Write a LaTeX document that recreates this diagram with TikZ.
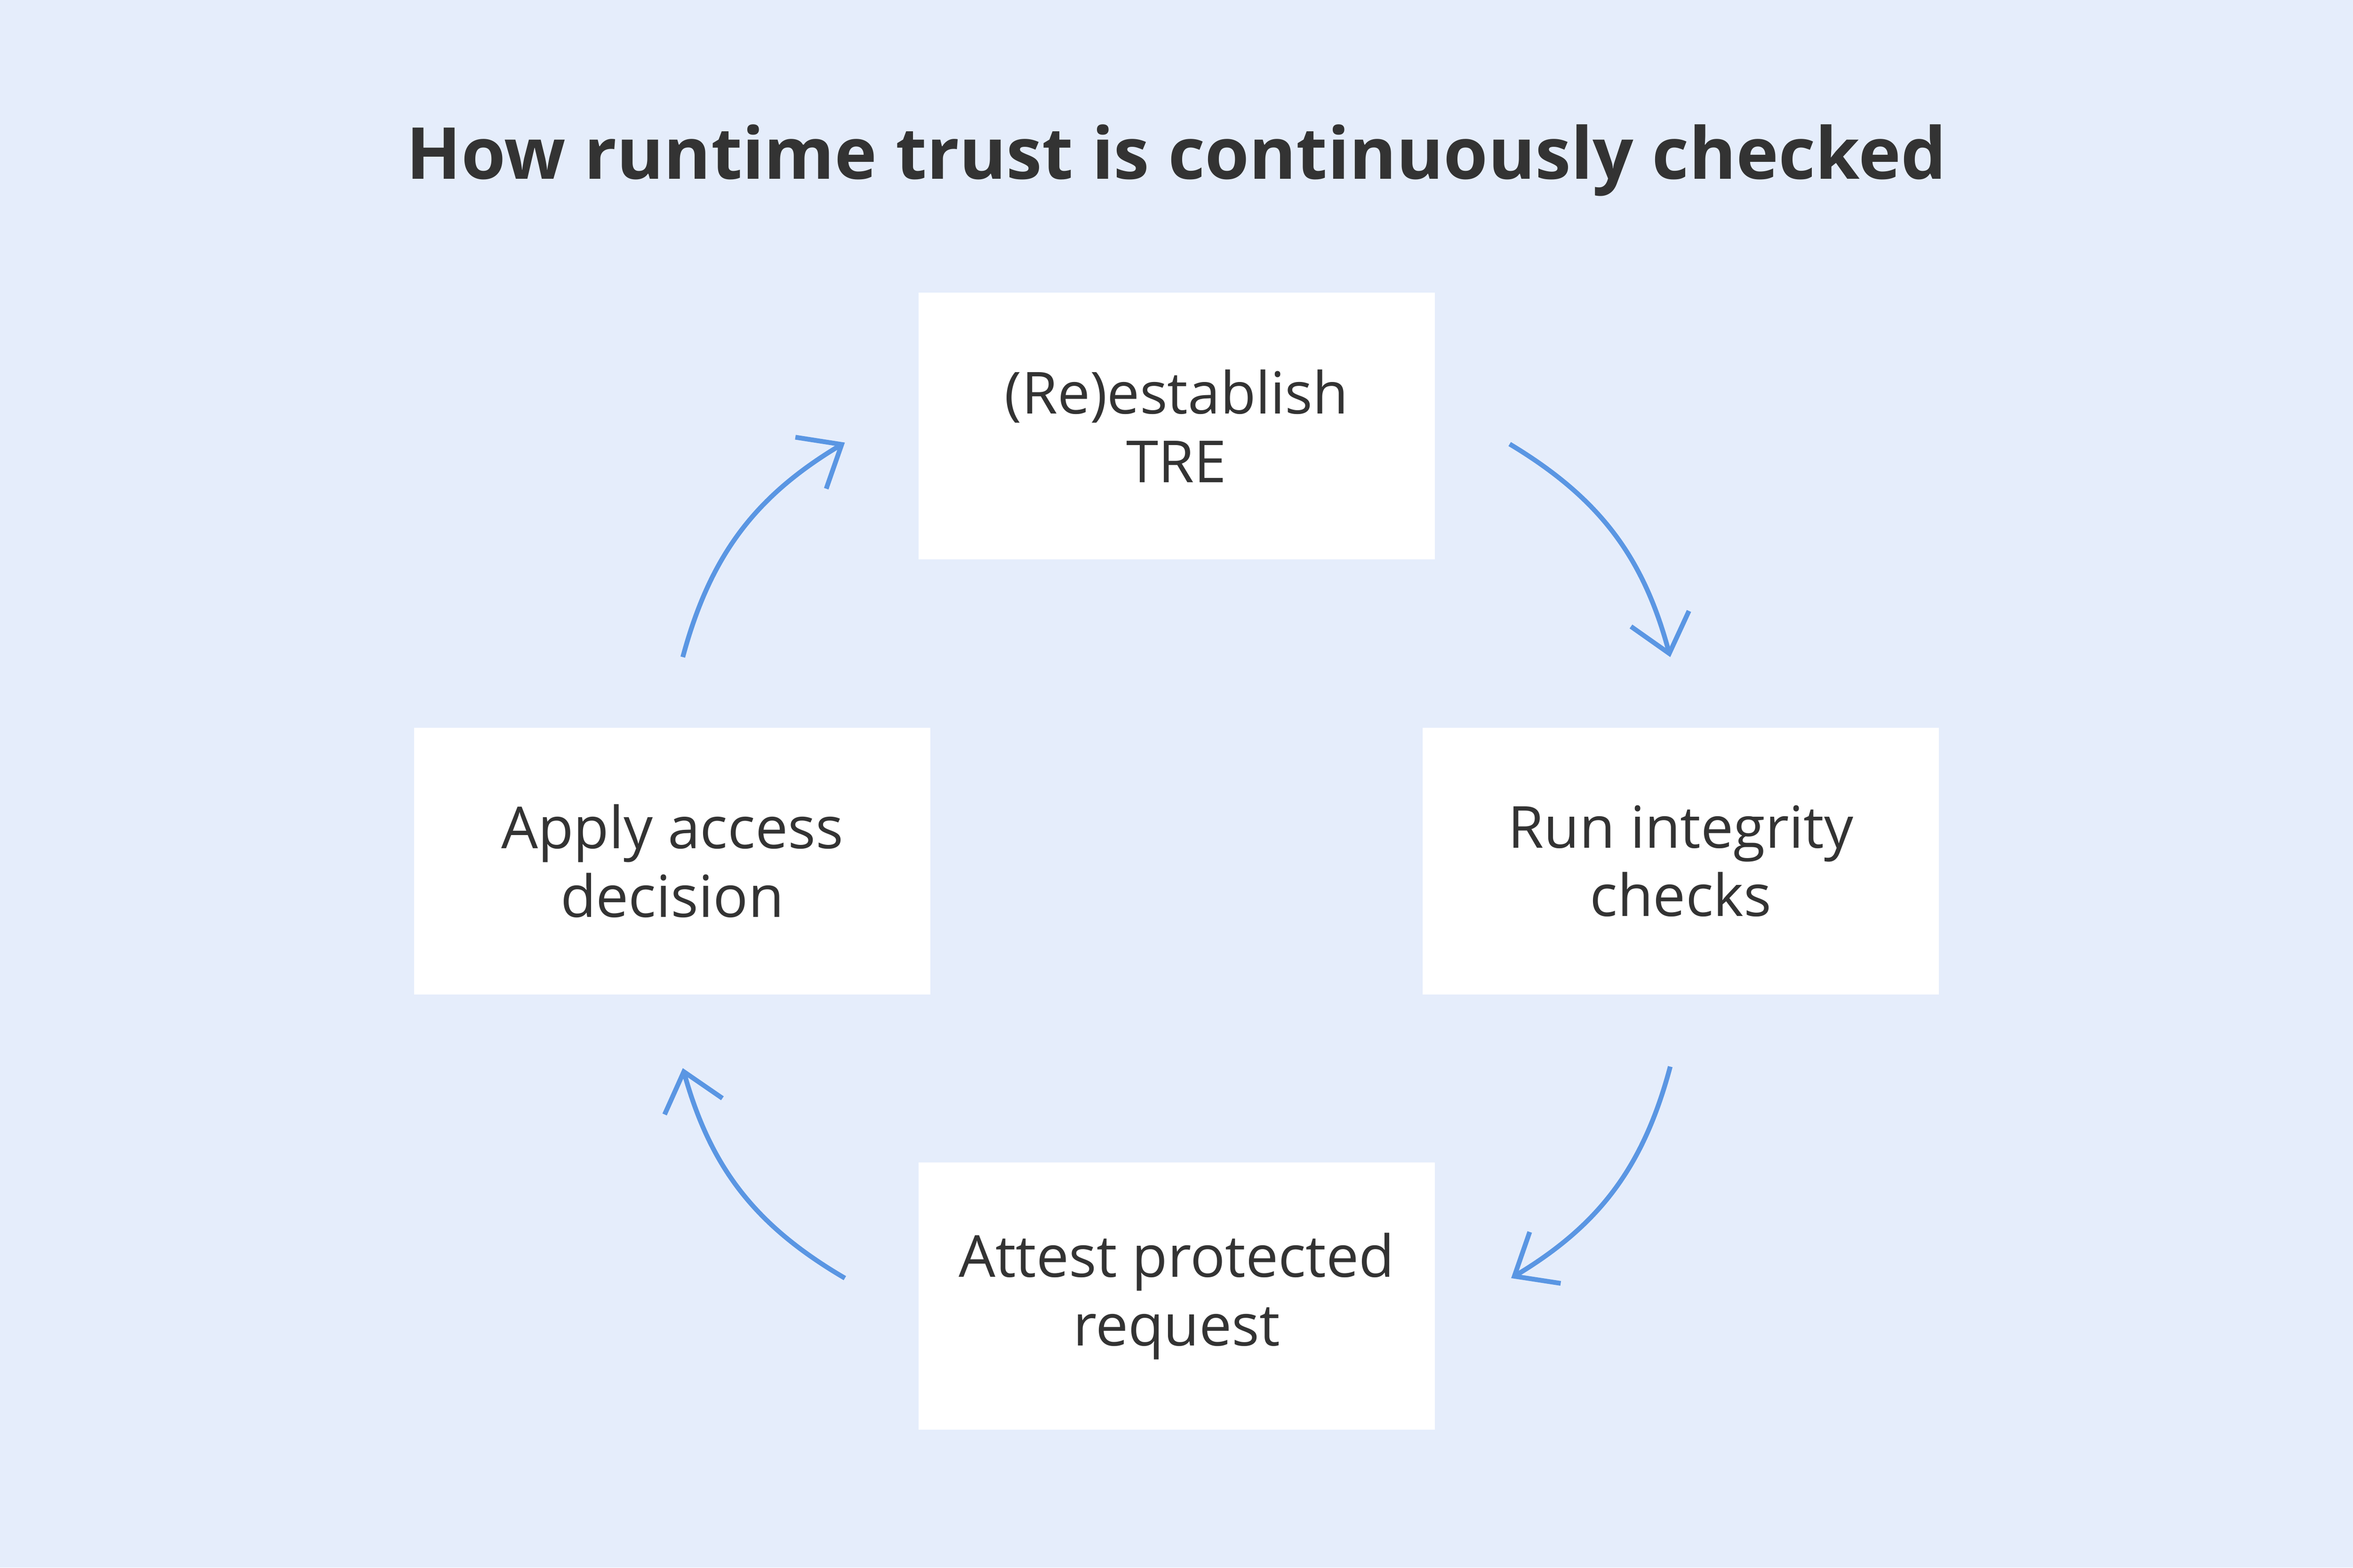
\documentclass[tikz,border=0pt]{standalone}
\usepackage{fontspec}
\setmainfont{Open Sans}
\usetikzlibrary{arrows.meta}
\definecolor{bgblue}{HTML}{E5EDFB}
\definecolor{arrowblue}{HTML}{5A96E3}
\definecolor{textgray}{HTML}{333333}

\begin{document}
\begin{tikzpicture}[inner sep=0pt]
    \tikzstyle{stage}=[rectangle, fill=white, minimum width=3.44cm, minimum height=1.78cm, text=textgray, align=center, font=\fontsize{11}{13}\selectfont]
    \tikzstyle{cyc}=[-{Straight Barb[length=2.4mm,width=4mm]}, draw=arrowblue, line width=0.9pt, bend left=22]

    \fill[bgblue] (0,0) rectangle (15.68,-10.45);
    \useasboundingbox (0,0) rectangle (15.68,-10.45);

    \node[text=textgray, font=\fontsize{13.6}{16}\selectfont\bfseries] (title) at (7.84,-1.07) {How runtime trust is continuously checked};

    \node[stage] (TRE) at (7.84,-2.84) {(Re)establish\\TRE};
    \node[stage] (RIC) at (11.20,-5.74) {Run integrity\\checks};
    \node[stage] (APR) at (7.84,-8.64) {Attest protected\\request};
    \node[stage] (AAD) at (4.48,-5.74) {Apply access\\decision};

    \coordinate (a1) at (10.06,-2.96);
    \coordinate (b1) at (11.13,-4.38);
    \coordinate (a2) at (11.13,-7.11);
    \coordinate (b2) at (10.07,-8.52);
    \coordinate (a3) at (5.63,-8.52);
    \coordinate (b3) at (4.55,-7.12);
    \coordinate (a4) at (4.55,-4.38);
    \coordinate (b4) at (5.63,-2.95);

    \draw[cyc] (a1) to (b1);
    \draw[cyc] (a2) to (b2);
    \draw[cyc] (a3) to (b3);
    \draw[cyc] (a4) to (b4);
\end{tikzpicture}
\end{document}
